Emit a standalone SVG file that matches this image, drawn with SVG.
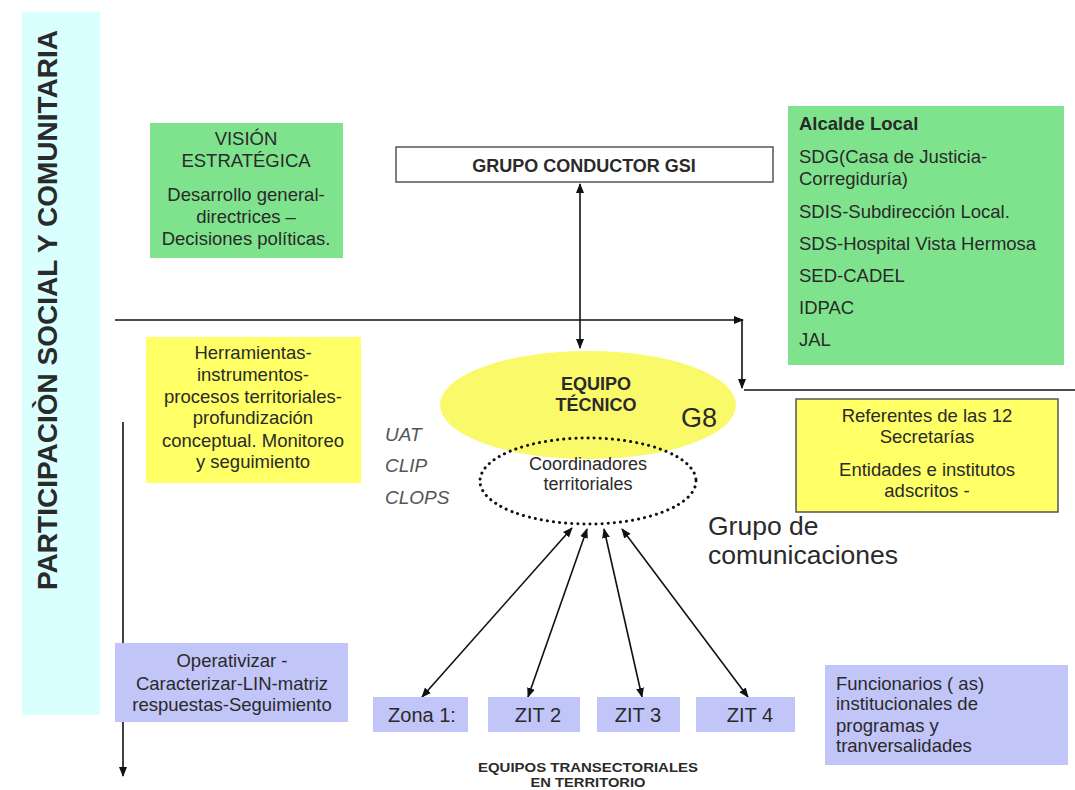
<svg xmlns="http://www.w3.org/2000/svg" width="1075" height="790" viewBox="0 0 1075 790">
<defs>
<marker id="ah" markerWidth="10" markerHeight="10" refX="9" refY="5" orient="auto-start-reverse" markerUnits="userSpaceOnUse"><path d="M0,1 L10,5 L0,9 z" fill="#111"/></marker>
<style>
text{font-family:"Liberation Sans",Arial,sans-serif;fill:#2a2a2a}
.c{text-anchor:middle}
.t16{font-size:18.5px}
.t17{font-size:18.5px}
.green{fill:#7fe38e}
.yel{fill:#ffff66}
.lav{fill:#c2c5f8}
.ln{stroke:#111;stroke-width:1.6;fill:none}
.it{font-style:italic;font-size:19px;fill:#555}
.z{font-size:20px}
</style>
</defs>
<rect width="1075" height="790" fill="#fff"/>
<g id="band">
<rect x="22" y="12" width="78" height="703" fill="#d9ffff"/>
<text transform="translate(57,310) rotate(-90)" class="c" font-size="28" font-weight="bold" fill="#111">PARTICIPACIÒN SOCIAL Y COMUNITARIA</text>
</g>
<g id="connectors">
<line class="ln" x1="580" y1="184" x2="580" y2="348" marker-start="url(#ah)" marker-end="url(#ah)"/>
<line class="ln" x1="115" y1="320" x2="743" y2="320" marker-end="url(#ah)"/>
<line class="ln" x1="742" y1="320" x2="742" y2="388" marker-end="url(#ah)"/>
<line class="ln" x1="744" y1="390" x2="1075" y2="390" stroke="#444"/>
<line class="ln" x1="123" y1="422" x2="123" y2="776" marker-end="url(#ah)" stroke="#333"/>
<line class="ln" x1="572" y1="528" x2="422" y2="697" marker-start="url(#ah)" marker-end="url(#ah)" stroke-width="1.3"/>
<line class="ln" x1="587" y1="529" x2="528" y2="697" marker-start="url(#ah)" marker-end="url(#ah)" stroke-width="1.3"/>
<line class="ln" x1="604" y1="529" x2="642" y2="697" marker-start="url(#ah)" marker-end="url(#ah)" stroke-width="1.3"/>
<line class="ln" x1="622" y1="529" x2="748" y2="697" marker-start="url(#ah)" marker-end="url(#ah)" stroke-width="1.3"/>
</g>
<g id="vision">
<rect class="green" x="150" y="123" width="193" height="135"/>
<text class="c t16" x="246" y="145">VISIÓN</text>
<text class="c t16" x="246" y="167">ESTRATÉGICA</text>
<text class="c t16" x="246" y="201">Desarrollo general-</text>
<text class="c t16" x="246" y="223">directrices –</text>
<text class="c t16" x="246" y="245">Decisiones políticas.</text>
</g>
<g id="gsi">
<rect x="396" y="147" width="377" height="35" fill="#fff" stroke="#555" stroke-width="1.5"/>
<text class="c" x="584" y="172" font-size="18" font-weight="bold" fill="#111">GRUPO CONDUCTOR GSI</text>
</g>
<g id="alcalde">
<rect class="green" x="788" y="106" width="276" height="259"/>
<text class="t17" x="799" y="130" font-weight="bold" fill="#111">Alcalde Local</text>
<text class="t17" x="799" y="163">SDG(Casa de Justicia-</text>
<text class="t17" x="799" y="185">Corregiduría)</text>
<text class="t17" x="799" y="218">SDIS-Subdirección Local.</text>
<text class="t17" x="799" y="250">SDS-Hospital Vista Hermosa</text>
<text class="t17" x="799" y="282">SED-CADEL</text>
<text class="t17" x="799" y="314">IDPAC</text>
<text class="t17" x="799" y="346">JAL</text>
</g>
<g id="herramientas">
<rect class="yel" x="146" y="337" width="215" height="146"/>
<text class="c t16" x="253" y="359">Herramientas-</text>
<text class="c t16" x="253" y="381">instrumentos-</text>
<text class="c t16" x="253" y="403">procesos territoriales-</text>
<text class="c t16" x="253" y="424">profundización</text>
<text class="c t16" x="253" y="447">conceptual. Monitoreo</text>
<text class="c t16" x="253" y="468">y seguimiento</text>
</g>
<g id="equipo">
<ellipse cx="588" cy="405" rx="148" ry="54" fill="#f9f96a"/>
<text class="c" x="596" y="390" font-size="18" font-weight="bold" fill="#111">EQUIPO</text>
<text class="c" x="596" y="411" font-size="18" font-weight="bold" fill="#111">TÉCNICO</text>
<text x="681" y="427" font-size="27" fill="#111">G8</text>
</g>
<g id="coordinadores">
<ellipse cx="588" cy="481" rx="108" ry="43" fill="none" stroke="#111" stroke-width="3" stroke-dasharray="0.1 6" stroke-linecap="round"/>
<text class="c" x="588" y="470" font-size="18" fill="#555">Coordinadores</text>
<text class="c" x="588" y="490" font-size="18" fill="#555">territoriales</text>
</g>
<g id="siglas">
<text class="it" x="385" y="441">UAT</text>
<text class="it" x="385" y="472">CLIP</text>
<text class="it" x="385" y="504">CLOPS</text>
</g>
<g id="referentes">
<rect class="yel" x="796" y="399" width="262" height="113" stroke="#555" stroke-width="1.5"/>
<text class="c t16" x="927" y="422">Referentes de las 12</text>
<text class="c t16" x="927" y="443">Secretarías</text>
<text class="c t16" x="927" y="476">Entidades e institutos</text>
<text class="c t16" x="927" y="497">adscritos -</text>
</g>
<g id="comunicaciones">
<text x="708" y="535" font-size="26.5" fill="#222">Grupo de</text>
<text x="708" y="564" font-size="26.5" fill="#222">comunicaciones</text>
</g>
<g id="operativizar">
<rect class="lav" x="115" y="643" width="233" height="79"/>
<text class="c t16" x="232" y="667">Operativizar -</text>
<text class="c t16" x="232" y="690">Caracterizar-LIN-matriz</text>
<text class="c t16" x="232" y="711">respuestas-Seguimiento</text>
</g>
<g id="zona1"><rect class="lav" x="373" y="697" width="95" height="35"/><text class="c z" x="422" y="722">Zona 1:</text></g>
<g id="zit2"><rect class="lav" x="488" y="697" width="92" height="35"/><text class="c z" x="538" y="722">ZIT 2</text></g>
<g id="zit3"><rect class="lav" x="597" y="697" width="83" height="35"/><text class="c z" x="638" y="722">ZIT 3</text></g>
<g id="zit4"><rect class="lav" x="696" y="697" width="99" height="35"/><text class="c z" x="750" y="722">ZIT 4</text></g>
<g id="funcionarios">
<rect class="lav" x="825" y="665" width="243" height="100"/>
<text class="t16" x="836" y="690">Funcionarios ( as)</text>
<text class="t16" x="836" y="710">institucionales de</text>
<text class="t16" x="836" y="732">programas y</text>
<text class="t16" x="836" y="752">tranversalidades</text>
</g>
<g id="equipos-label">
<text class="c" x="588" y="772" font-size="13" font-weight="bold" fill="#111" textLength="220" lengthAdjust="spacingAndGlyphs">EQUIPOS TRANSECTORIALES</text>
<text class="c" x="588" y="787" font-size="13" font-weight="bold" fill="#111" textLength="115" lengthAdjust="spacingAndGlyphs">EN TERRITORIO</text>
</g>
</svg>
